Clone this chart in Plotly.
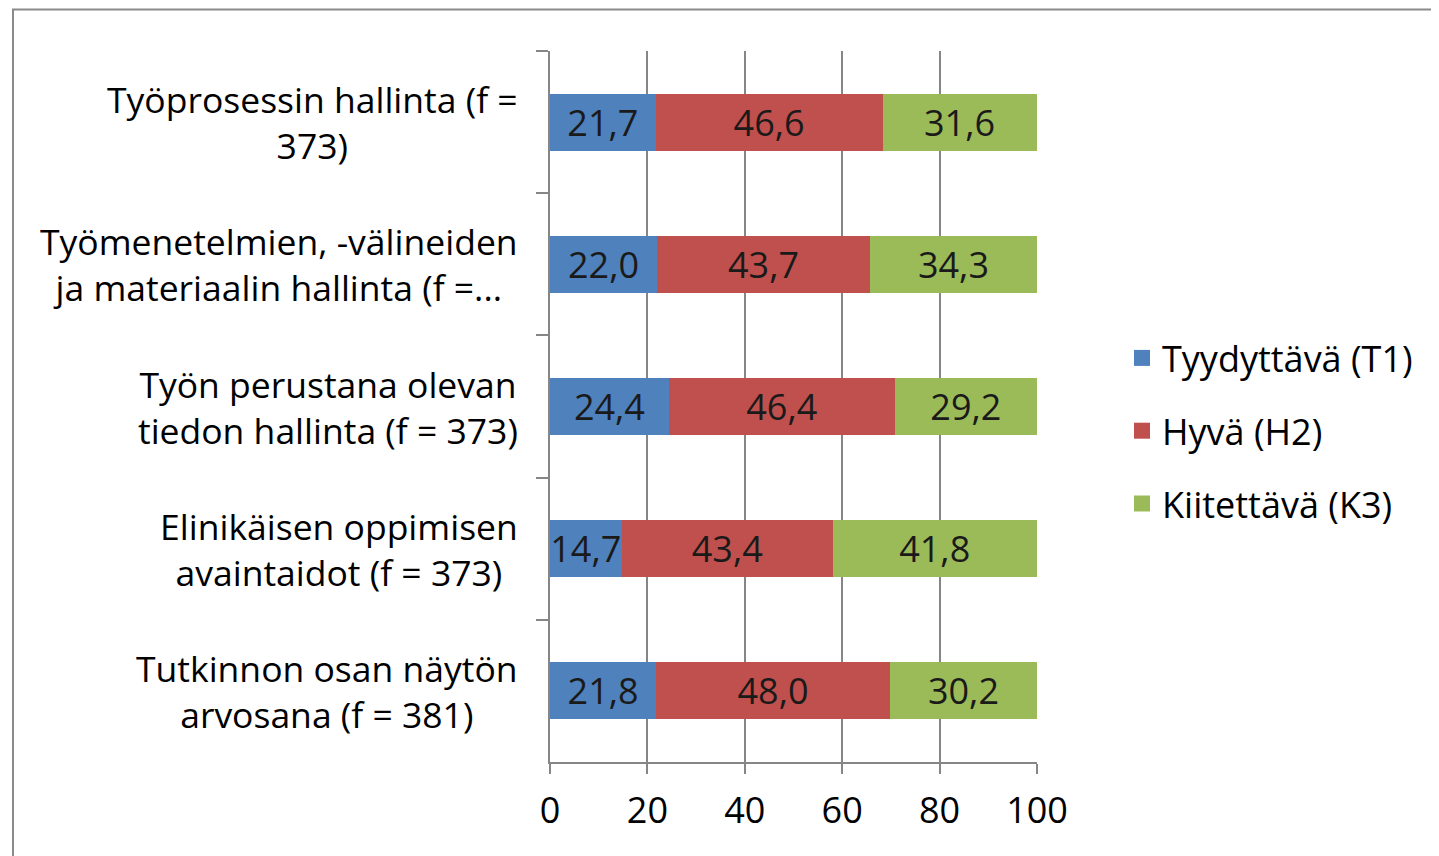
import plotly.graph_objects as go

categories = [
    "Työprosessin hallinta (f =<br>373)",
    "Työmenetelmien, -välineiden<br>ja materiaalin hallinta (f =...",
    "Työn perustana olevan<br>tiedon hallinta (f = 373)",
    "Elinikäisen oppimisen<br>avaintaidot (f = 373)",
    "Tutkinnon osan näytön<br>arvosana (f = 381)",
]
series_names = ["Tyydyttävä (T1)", "Hyvä (H2)", "Kiitettävä (K3)"]
t1 = [21.7, 22.0, 24.4, 14.7, 21.8]
h2 = [46.6, 43.7, 46.4, 43.4, 48.0]
k3 = [31.6, 34.3, 29.2, 41.8, 30.2]
x_ticks = [0, 20, 40, 60, 80, 100]

colors = ["#4F81BD", "#C0504D", "#9BBB59"]
FONT = "'Open Sans', Lato, sans-serif"
FS = 36
FS_LAB = 35.5

OFF = 8  # page body margin
W, H = 1439 - OFF, 856 - OFF
L, T = 550 - OFF, 51 - OFF
pw, ph = 487, 711
R, B = W - L - pw, H - T - ph

def px_x(p):
    return (p - OFF - L) / pw

def px_y(p):
    return (T + ph - (p - OFF)) / ph

fig = go.Figure()
for name, vals, col in zip(series_names, [t1, h2, k3], colors):
    fig.add_trace(go.Bar(
        y=categories, x=vals, name=name, orientation="h",
        marker=dict(color=col, line=dict(width=0)),
        text=[f"{v:.1f}".replace(".", ",") for v in vals],
        textposition="inside", insidetextanchor="middle",
        textfont=dict(family=FONT, size=FS, color="#1a1a1a"),
        constraintext="none",
        showlegend=False,
    ))
# legend entries with larger square symbols
for name, col in zip(series_names, colors):
    fig.add_trace(go.Scatter(
        x=[None], y=[None], mode="markers", name=name,
        marker=dict(symbol="square", size=16, color=col),
        legendgroup=name, showlegend=True,
    ))

# category labels, centred block (like Excel wrapped labels)
for c in categories:
    fig.add_annotation(
        x=px_x(520), xref="paper", y=c, yref="y",
        text=c, showarrow=False, xanchor="right", yanchor="middle",
        align="center", font=dict(family=FONT, size=FS_LAB, color="#000000"),
    )

# outer chart border
fig.add_shape(type="rect", xref="paper", yref="paper",
              x0=px_x(13), x1=px_x(1460), y0=px_y(880), y1=px_y(OFF + 1.5),
              line=dict(color="#8a8a8a", width=2), fillcolor="rgba(0,0,0,0)",
              layer="below")

fig.update_layout(
    width=W, height=H,
    margin=dict(l=L, r=R, t=T, b=B, pad=0),
    barmode="stack", bargap=0.6,
    plot_bgcolor="white", paper_bgcolor="white",
    font=dict(family=FONT, size=FS, color="#000000"),
    showlegend=True,
    legend=dict(
        x=px_x(1122), xanchor="left", y=px_y(328), yanchor="top",
        traceorder="grouped", tracegroupgap=23,
        font=dict(family=FONT, size=FS, color="#000000"),
        itemwidth=30, bgcolor="rgba(0,0,0,0)",
    ),
    xaxis=dict(
        range=[0, 100], tickvals=x_ticks, ticktext=[str(v) for v in x_ticks],
        showgrid=True, gridcolor="#868686", gridwidth=1.5,
        showline=True, linecolor="#868686", linewidth=1.5,
        ticks="outside", ticklen=10, tickcolor="#868686", tickwidth=1.5,
        tickfont=dict(family=FONT, size=FS, color="#000000"),
        ticklabelstandoff=6,
        zeroline=False, fixedrange=True,
    ),
    yaxis=dict(
        type="category", categoryorder="array", categoryarray=categories,
        autorange="reversed",
        showticklabels=False, showgrid=False,
        showline=True, linecolor="#868686", linewidth=1.5,
        ticks="outside", ticklen=12, tickcolor="#868686", tickwidth=1.5,
        tickson="boundaries", zeroline=False, fixedrange=True,
    ),
)

fig.write_html("out.html")
